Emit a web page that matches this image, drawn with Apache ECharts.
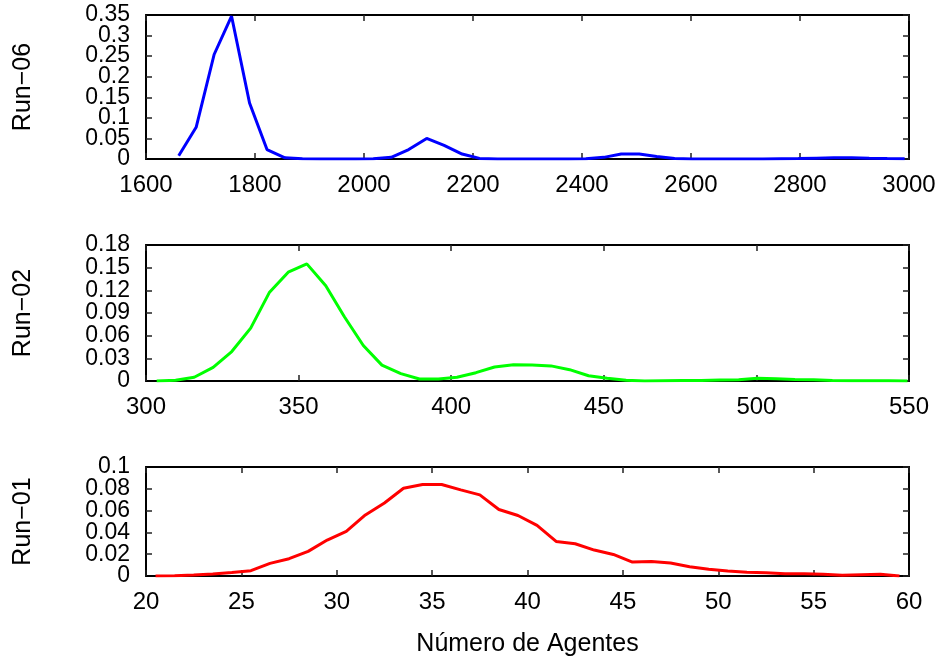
<!DOCTYPE html>
<html>
<head>
<meta charset="utf-8">
<script src="https://cdn.jsdelivr.net/npm/echarts@6/dist/echarts.min.js"></script>
<style>
  html, body { margin: 0; padding: 0; background: #fff; }
  #chart { width: 945px; height: 661px; }
</style>
</head>
<body>
<div id="chart"></div>
<script>
// Run-06
var run06X = [1660,1692,1725,1757,1790,1822,1855,1887,1920,1952,1985,2017,2050,2082,2115,2147,2180,2212,2245,2277,2310,2342,2375,2407,2440,2472,2505,2537,2570,2602,2635,2667,2700,2732,2765,2797,2830,2862,2895,2927,2960,2992];
var run06Y = [0.008,0.077,0.254,0.347,0.136,0.023,0.003,0.0005,0,0,0,0.0005,0.004,0.023,0.05,0.033,0.012,0.0015,0.0003,0,0,0,0,0.0005,0.004,0.012,0.012,0.006,0.001,0,0,0,0,0,0.0005,0.001,0.002,0.003,0.003,0.002,0.001,0.0005];
// Run-02
var run02X = [303.5,309.7,315.8,322.0,328.1,334.3,340.4,346.6,352.7,358.9,365.0,371.2,377.3,383.5,389.6,395.8,401.9,408.1,414.2,420.4,426.5,432.7,438.8,445.0,451.1,457.3,463.4,469.6,475.7,481.9,488.0,494.2,500.3,506.5,512.6,518.8,524.9,531.1,537.2,543.4,549.5];
var run02Y = [0,0.001,0.005,0.018,0.039,0.070,0.117,0.144,0.155,0.126,0.085,0.047,0.021,0.0097,0.0026,0.0026,0.005,0.011,0.0185,0.0216,0.0212,0.020,0.015,0.007,0.0035,0.001,0,0.0003,0.0005,0.0005,0.0013,0.0015,0.0035,0.003,0.002,0.0015,0.0008,0.0003,0.0003,0.0002,0];
// Run-01
var run01X = [20.5,21.5,22.5,23.5,24.5,25.5,26.5,27.5,28.5,29.5,30.5,31.5,32.5,33.5,34.5,35.5,36.5,37.5,38.5,39.5,40.5,41.5,42.5,43.5,44.5,45.5,46.5,47.5,48.5,49.5,50.5,51.5,52.5,53.5,54.5,55.5,56.5,57.5,58.5,59.5];
var run01Y = [0,0.0003,0.001,0.0018,0.0033,0.0049,0.0116,0.0159,0.0226,0.033,0.041,0.056,0.067,0.0805,0.084,0.084,0.079,0.0744,0.061,0.0555,0.0464,0.0317,0.0296,0.0238,0.0198,0.0128,0.0134,0.0119,0.0085,0.0061,0.0046,0.0034,0.003,0.0021,0.0021,0.0015,0.0006,0.0012,0.0015,0];

var panelNames = ['Run\u221206', 'Run\u221202', 'Run\u221201'];
var xRanges = [[1600, 3000, 200], [300, 550, 50], [20, 60, 5]];
var yRanges = [[0, 0.35, 0.05], [0, 0.18, 0.03], [0, 0.1, 0.02]];
var lineColors = ['#0000ff', '#00ff00', '#ff0000'];

var font = 'Liberation Sans, Arial, sans-serif';
var fs = 24;
var fsY = 23;

function pairs(xs, ys) {
  return xs.map(function (x, i) { return [x, ys[i]]; });
}
function fmt(v) {
  return String(Math.round(v * 1000) / 1000);
}
var seriesData = [pairs(run06X, run06Y), pairs(run02X, run02Y), pairs(run01X, run01Y)];

var grids = [
  { left: 146, right: 36, top: 15, height: 144 },
  { left: 146, right: 36, top: 245, height: 136 },
  { left: 146, right: 36, top: 467, height: 109 }
];

var xAxes = [], yAxes = [], series = [];
var lineStyle = { color: '#000', width: 2 };
var tickStyle = { show: true, inside: true, length: 6, lineStyle: { color: '#222', width: 1.5 } };
var yLabel = { color: '#000', fontSize: fsY, fontFamily: font, margin: 16, formatter: fmt };

for (var i = 0; i < 3; i++) {
  var xr = xRanges[i], yr = yRanges[i];
  xAxes.push({
    type: 'value', gridIndex: i, position: 'bottom',
    min: xr[0], max: xr[1], interval: xr[2],
    axisLine: { show: true, onZero: false, lineStyle: lineStyle },
    axisTick: tickStyle,
    splitLine: { show: false },
    axisLabel: { color: '#000', fontSize: fs, fontFamily: font, margin: 14,
      showMinLabel: true, showMaxLabel: true, formatter: fmt },
    name: i === 2 ? 'N\u00famero de Agentes' : '',
    nameLocation: 'middle', nameGap: 56,
    nameTextStyle: { color: '#000', fontSize: 25, fontFamily: font }
  });
  xAxes.push({
    type: 'value', gridIndex: i, position: 'top',
    min: xr[0], max: xr[1], interval: xr[2],
    axisLine: { show: true, onZero: false, lineStyle: lineStyle },
    axisTick: tickStyle,
    splitLine: { show: false },
    axisLabel: { show: false }
  });
  // left axis: frame, ticks and the inner tick labels
  yAxes.push({
    type: 'value', gridIndex: i, position: 'left',
    min: yr[0], max: yr[1], interval: yr[2],
    axisLine: { show: true, onZero: false, lineStyle: lineStyle },
    axisTick: tickStyle,
    splitLine: { show: false },
    axisLabel: yLabel,
    name: panelNames[i], nameLocation: 'middle', nameGap: 110, nameRotate: 90,
    nameTextStyle: { color: '#000', fontSize: 25, fontFamily: font }
  });
  // right axis: frame and ticks only
  yAxes.push({
    type: 'value', gridIndex: i, position: 'right',
    min: yr[0], max: yr[1], interval: yr[2],
    axisLine: { show: true, onZero: false, lineStyle: lineStyle },
    axisTick: tickStyle,
    splitLine: { show: false },
    axisLabel: { show: false }
  });
  // left axis carrying only the end labels (min and max)
  yAxes.push({
    type: 'value', gridIndex: i, position: 'left',
    min: yr[0], max: yr[1], interval: yr[1] - yr[0],
    axisLine: { show: false },
    axisTick: { show: false },
    splitLine: { show: false },
    axisLabel: Object.assign({ showMinLabel: true, showMaxLabel: true }, yLabel)
  });
  series.push({
    type: 'line',
    xAxisIndex: i * 2, yAxisIndex: i * 3,
    data: seriesData[i],
    showSymbol: false, symbol: 'none',
    lineStyle: { color: lineColors[i], width: 3 },
    animation: false
  });
}

var chart = echarts.init(document.getElementById('chart'));
chart.setOption({
  animation: false,
  backgroundColor: '#fff',
  grid: grids,
  xAxis: xAxes,
  yAxis: yAxes,
  series: series
});
</script>
</body>
</html>
